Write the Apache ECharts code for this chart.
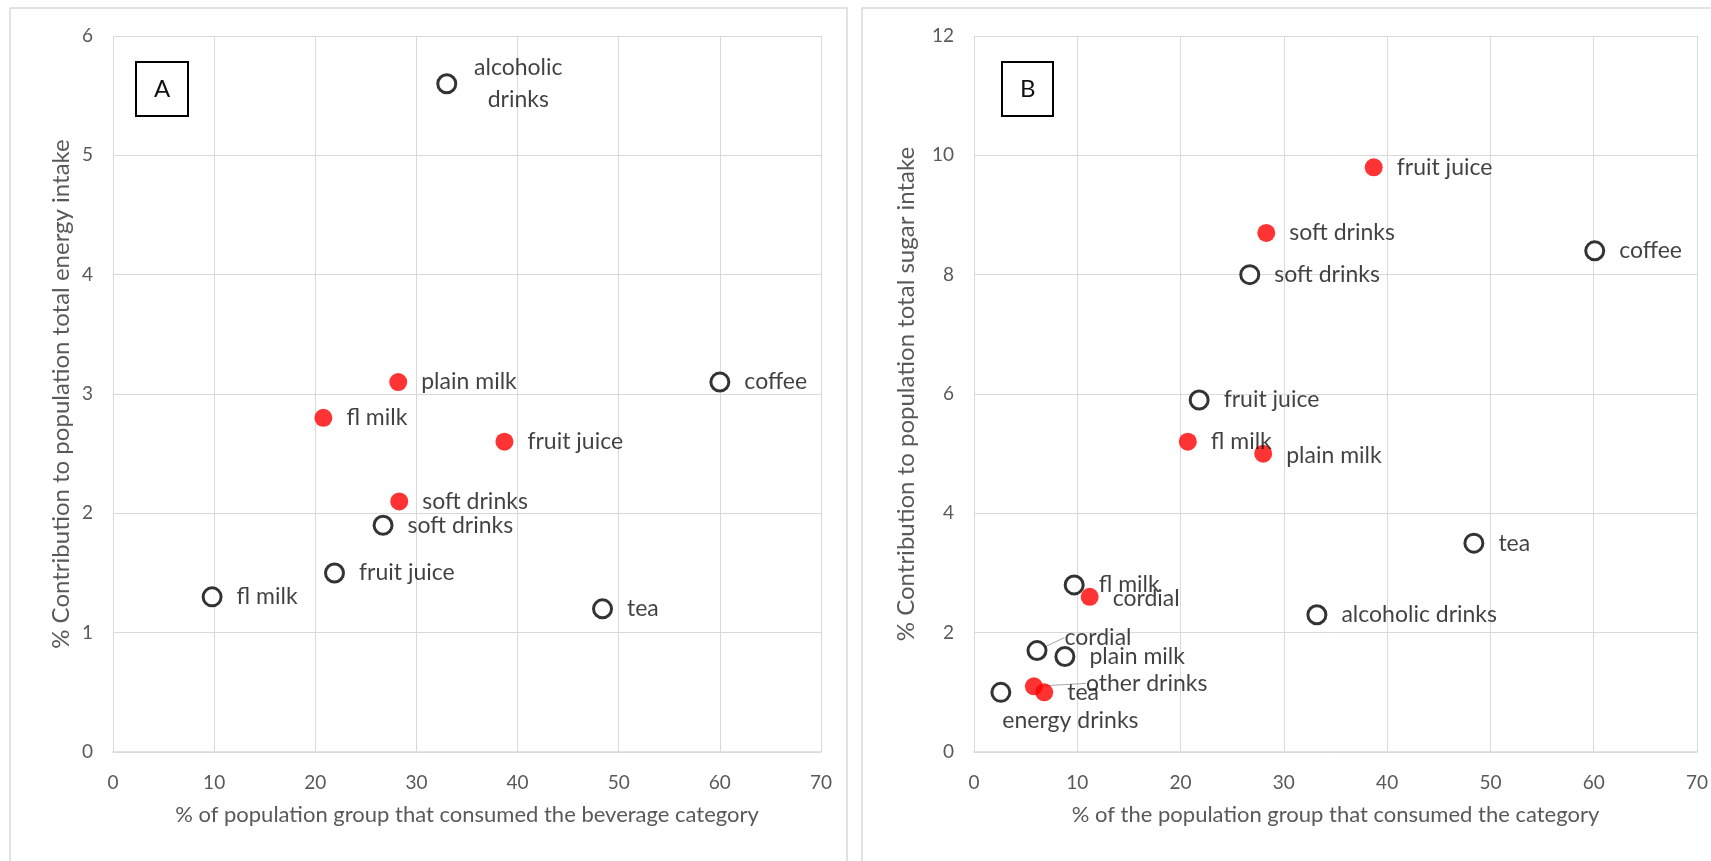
<!DOCTYPE html>
<html>
<head>
<meta charset="utf-8">
<title>Beverage contribution to energy and sugar intake</title>
<script src="https://cdn.jsdelivr.net/npm/echarts@6/dist/echarts.min.js"></script>
<style>
  html, body { margin: 0; padding: 0; background: #ffffff; }
  #chart { width: 1711px; height: 861px; }
</style>
</head>
<body>
<div id="chart"></div>
<script>
// ---- Panel A: % contribution to total energy intake ----
const energyOpenNames = ['alcoholic drinks', 'coffee', 'soft drinks', 'fruit juice', 'fl milk', 'tea'];
const energyOpenX = [33.0, 60.0, 26.7, 21.9, 9.8, 48.4];
const energyOpenY = [5.6, 3.1, 1.9, 1.5, 1.3, 1.2];

const energyFilledNames = ['plain milk', 'fl milk', 'fruit juice', 'soft drinks'];
const energyFilledX = [28.2, 20.8, 38.7, 28.3];
const energyFilledY = [3.1, 2.8, 2.6, 2.1];

// ---- Panel B: % contribution to total sugar intake ----
const sugarOpenNames = ['coffee', 'soft drinks', 'fruit juice', 'tea', 'alcoholic drinks', 'fl milk', 'cordial', 'plain milk', 'energy drinks'];
const sugarOpenX = [60.1, 26.7, 21.8, 48.4, 33.2, 9.7, 6.1, 8.8, 2.6];
const sugarOpenY = [8.4, 8.0, 5.9, 3.5, 2.3, 2.8, 1.7, 1.6, 1.0];

const sugarFilledNames = ['fruit juice', 'soft drinks', 'fl milk', 'plain milk', 'cordial', 'other drinks', 'tea'];
const sugarFilledX = [38.7, 28.3, 20.7, 28.0, 11.2, 5.8, 6.8];
const sugarFilledY = [9.8, 8.7, 5.2, 5.0, 2.6, 1.1, 1.0];

// Axis settings
const xTicks = { min: 0, max: 70, interval: 10 };
const energyTicks = { min: 0, max: 6, interval: 1 };
const sugarTicks = { min: 0, max: 12, interval: 2 };

const xTitleA = '% of population group that consumed the beverage category';
const yTitleA = '% Contribution to population total energy intake';
const xTitleB = '% of the population group that consumed the category';
const yTitleB = '% Contribution to population total sugar intake';

// ---- label placement tweaks (pixel nudges for crowded labels) ----
const labelNudges = {
  'A:open:alcoholic drinks': { wrap: true, move: [47, 0] },
  'B:filled:cordial': { move: [0, 2] },
  'B:filled:plain milk': { move: [0, 2] },
  'B:open:energy drinks': { move: [-23, 28] },
  'B:open:cordial': { move: [3, -13], guide: true },
  'B:filled:other drinks': { move: [29, -3], guide: true }
};

const FONT = 'Lato, "Open Sans", sans-serif';
const AXIS_GREY = '#595959';
const GRID_GREY = '#d9d9d9';

function buildPoints(panel, kind, names, xs, ys) {
  return names.map(function (name, i) {
    const item = { name: name, value: [xs[i], ys[i]] };
    const tweak = labelNudges[panel + ':' + kind + ':' + name];
    if (tweak && tweak.wrap) {
      item.label = { formatter: name.replace(' ', '\n'), align: 'center', lineHeight: 32 };
    }
    if (tweak && tweak.guide) {
      item.labelLine = { show: true, lineStyle: { color: '#a6a6a6', width: 1 } };
    }
    return item;
  });
}

function moveFor(panel, kind, names) {
  return function (params) {
    const tweak = labelNudges[panel + ':' + kind + ':' + names[params.dataIndex]];
    if (tweak && tweak.move) return { dx: tweak.move[0], dy: tweak.move[1] };
    return {};
  };
}

const baseLabel = {
  show: true,
  position: 'right',
  distance: 14,
  formatter: '{b}',
  color: '#111111',
  fontFamily: FONT,
  fontSize: 23
};

function scatter(panel, kind, idx, names, xs, ys) {
  const filled = kind === 'filled';
  return {
    type: 'scatter',
    name: panel + '-' + kind,
    xAxisIndex: idx,
    yAxisIndex: idx,
    symbol: 'circle',
    symbolSize: filled ? 18 : 18,
    itemStyle: filled
      ? { color: '#ff0000', borderWidth: 0 }
      : { color: '#ffffff', borderColor: '#000000', borderWidth: 3 },
    label: baseLabel,
    labelLine: { show: false, lineStyle: { color: '#a6a6a6', width: 1 } },
    labelLayout: moveFor(panel, kind, names),
    emphasis: { disabled: true },
    data: buildPoints(panel, kind, names, xs, ys)
  };
}

function xAxis(idx, title) {
  return {
    type: 'value',
    gridIndex: idx,
    min: xTicks.min, max: xTicks.max, interval: xTicks.interval,
    name: title,
    nameLocation: 'middle',
    nameGap: 52,
    nameTextStyle: { color: AXIS_GREY, fontFamily: FONT, fontSize: 22 },
    axisLine: { show: true, lineStyle: { color: GRID_GREY, width: 1.5 } },
    axisTick: { show: false },
    axisLabel: { color: AXIS_GREY, fontFamily: FONT, fontSize: 19, margin: 21 },
    splitLine: { show: true, lineStyle: { color: GRID_GREY, width: 1 } }
  };
}

function yAxis(idx, ticks, title, gap) {
  return {
    type: 'value',
    gridIndex: idx,
    min: ticks.min, max: ticks.max, interval: ticks.interval,
    name: title,
    nameLocation: 'middle',
    nameGap: gap,
    nameRotate: 90,
    nameTextStyle: { color: AXIS_GREY, fontFamily: FONT, fontSize: 24 },
    axisLine: { show: false },
    axisTick: { show: false },
    axisLabel: { color: AXIS_GREY, fontFamily: FONT, fontSize: 19, margin: 20 },
    splitLine: { show: true, lineStyle: { color: GRID_GREY, width: 1 } }
  };
}

function panelTag(text, left) {
  return {
    text: text,
    left: left,
    top: 62,
    padding: [15, 18, 15, 18],
    borderColor: '#000000',
    borderWidth: 2,
    textStyle: { color: '#111111', fontFamily: FONT, fontSize: 24, fontWeight: 'normal' }
  };
}

const chart = echarts.init(document.getElementById('chart'), null, { renderer: 'canvas' });

chart.setOption({
  backgroundColor: '#ffffff',
  animation: false,
  title: [panelTag('A', 136), panelTag('B', 1002)],
  graphic: [
    { type: 'rect', z: -10, shape: { x: 10, y: 8, width: 837, height: 900 },
      style: { fill: 'none', stroke: GRID_GREY, lineWidth: 1.5 } },
    { type: 'rect', z: -10, shape: { x: 862, y: 8, width: 900, height: 900 },
      style: { fill: 'none', stroke: GRID_GREY, lineWidth: 1.5 } }
  ],
  grid: [
    { left: 113, top: 36, width: 708, height: 716 },
    { left: 974, top: 36, width: 726, height: 716 }
  ],
  xAxis: [xAxis(0, xTitleA), xAxis(1, xTitleB)],
  yAxis: [yAxis(0, energyTicks, yTitleA, 40), yAxis(1, sugarTicks, yTitleB, 56)],
  series: [
    scatter('A', 'open', 0, energyOpenNames, energyOpenX, energyOpenY),
    scatter('A', 'filled', 0, energyFilledNames, energyFilledX, energyFilledY),
    scatter('B', 'open', 1, sugarOpenNames, sugarOpenX, sugarOpenY),
    scatter('B', 'filled', 1, sugarFilledNames, sugarFilledX, sugarFilledY)
  ]
});
</script>
</body>
</html>
